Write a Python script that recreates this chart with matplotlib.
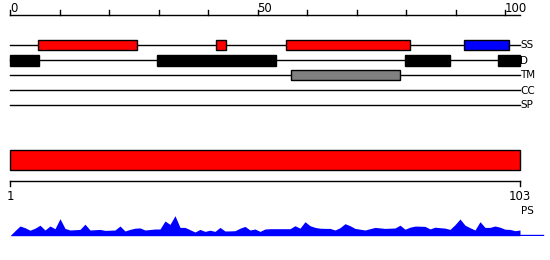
import numpy as np
import matplotlib
matplotlib.use("Agg")
import matplotlib.pyplot as plt
from matplotlib.patches import Rectangle

# ------------------------------------------------------------
# data
# ------------------------------------------------------------
seq_len = 103
track_names = ["SS", "D", "TM", "CC", "SP"]

ss_red = [(5.7, 25.7), (41.6, 43.6), (55.8, 80.8)]
ss_blue = [(91.7, 100.8)]
disorder = [(0.0, 5.9), (29.7, 53.8), (79.7, 88.8), (98.6, 103.0)]
tm = [(56.8, 78.8)]

top_ticks = [0, 10, 20, 30, 40, 50, 60, 70, 80, 90, 100]
top_labels = {0: "0", 50: "50", 100: "100"}

ps_domain = (1, 103)
ps_residue = np.arange(1, 104)
ps_score = [
    0, 5, 9.7, 8, 5.5, 7.5, 10.5, 5.7, 9.7, 7,
    17, 7.3, 5.7, 6, 6.3, 11.5, 5.7, 6, 6.3, 5.3,
    5.5, 5.7, 9.7, 4.7, 6.3, 7.5, 7.8, 5.7, 6.2, 6.7,
    6.7, 14.7, 11.3, 20, 8.3, 8.3, 6, 3.7, 6.3, 4.3,
    5.5, 4.3, 8.3, 4.7, 4.8, 5, 7.5, 9.3, 5.7, 6.7,
    4.3, 6.7, 7, 7, 7, 7, 7, 10, 7.5, 14,
    10, 8.3, 7.5, 7.3, 7.3, 5.7, 8, 12, 10, 7.3,
    6.5, 5.7, 7, 8.3, 7.8, 7.3, 7.5, 7.7, 10.5, 6.5,
    8.5, 9.6, 9.5, 9.3, 6.8, 8.5, 8, 7.6, 6.3, 11,
    16.7, 10.5, 8, 5.7, 14, 8.3, 8.3, 9.7, 8.5, 6.5,
    6.3, 5, 5.7,
]

# ------------------------------------------------------------
# layout (pixel based, 550 x 260)
# ------------------------------------------------------------
W, H = 550, 260
x0, x1 = 10, 520
fs = 7.5
fs_num = 8.5

fig = plt.figure(figsize=(W / 100, H / 100), dpi=100)

# top panel: 0-based coordinates 0..103 -> 10..520 px
scale_top = (x1 - x0) / seq_len
ax = fig.add_axes([0, 0, 1, 1])
ax.set_xlim(-x0 / scale_top, (W - x0) / scale_top)
ax.set_ylim(H, 0)
ax.axis("off")

# ruler
ax.plot([0, seq_len], [15, 15], color="black", lw=1)
for t in top_ticks:
    ax.plot([t, t], [10, 15], color="black", lw=1)
    if t in top_labels:
        ax.text(t, 12, top_labels[t], ha="left", va="baseline", fontsize=fs_num)

row_y = {"SS": 45, "D": 60, "TM": 75, "CC": 90, "SP": 105}
for name in track_names:
    y = row_y[name]
    ax.plot([0, seq_len], [y, y], color="black", lw=1)
    ax.text(seq_len + 0.1, y + 0.5, name, ha="left", va="center", fontsize=fs)


def draw_boxes(spans, y, h, color):
    for a, b in spans:
        ax.add_patch(Rectangle((a, y - h / 2), b - a, h, facecolor=color,
                               edgecolor="black", lw=1, zorder=3))


draw_boxes(ss_red, row_y["SS"], 10, "#ff0000")
draw_boxes(ss_blue, row_y["SS"], 10, "#0000ff")
draw_boxes(disorder, row_y["D"], 11, "#000000")
draw_boxes(tm, row_y["TM"], 10.5, "#808080")

# bottom panel: 1-based coordinates 1..103 -> 10..520 px
scale_bot = (x1 - x0) / (ps_domain[1] - ps_domain[0])
bx = fig.add_axes([0, 0, 1, 1])
bx.set_xlim(ps_domain[0] - x0 / scale_bot, ps_domain[0] + (W - x0) / scale_bot)
bx.set_ylim(H, 0)
bx.axis("off")
bx.patch.set_alpha(0)

bx.add_patch(Rectangle((ps_domain[0], 150), ps_domain[1] - ps_domain[0], 20,
                       facecolor="#ff0000", edgecolor="black", lw=1))
bx.plot([ps_domain[0], ps_domain[1]], [180.5, 180.5], color="black", lw=1)
for t in ps_domain:
    bx.plot([t, t], [180.5, 185.5], color="black", lw=1)
    bx.text(t, 196, str(t), ha="center", va="center", fontsize=fs_num)
bx.text(ps_domain[1] + 0.3, 211, "PS", ha="left", va="center", fontsize=fs)

# profile
px = fig.add_axes([0, 24.3 / H, 1, 30 / H])
px.set_xlim(bx.get_xlim())
px.set_ylim(0, 30)
px.axis("off")
px.patch.set_alpha(0)
px.fill_between(ps_residue, 0, ps_score, color="#0000ff", lw=0)
px.plot([ps_domain[1], ps_domain[1] + 4.6], [0.3, 0.3], color="#0000ff", lw=1)

fig.savefig("out.png", dpi=100)
